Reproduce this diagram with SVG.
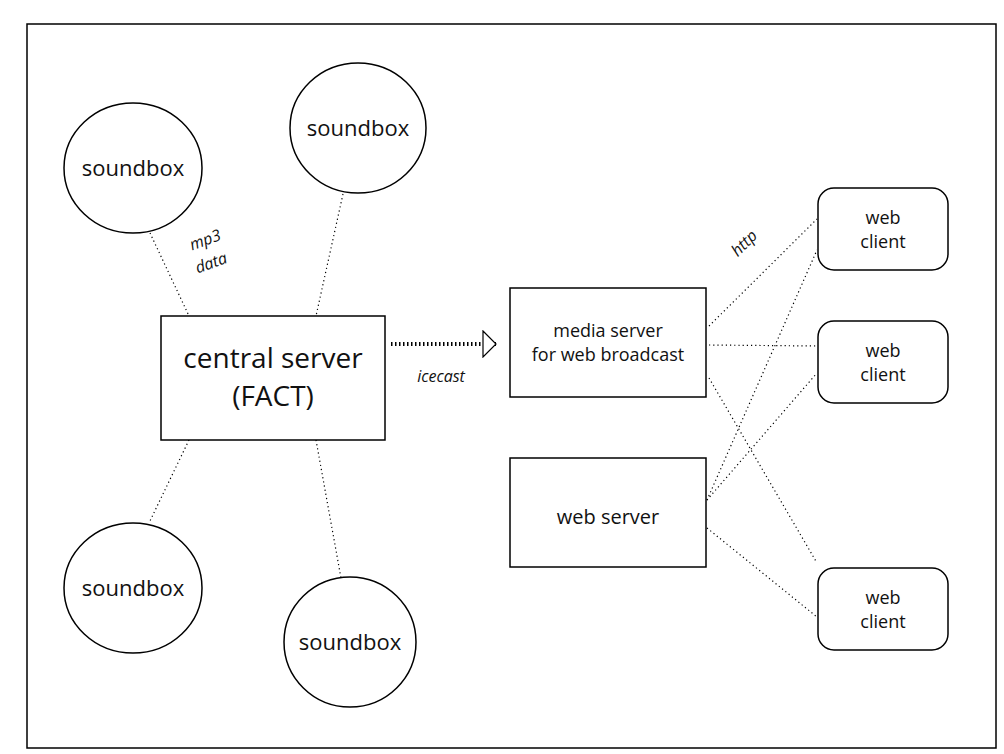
<svg xmlns="http://www.w3.org/2000/svg" width="1004" height="754" viewBox="0 0 1004 754">
<style>
.n{fill:#fff;stroke:#000;stroke-width:1.5}
.t{font-family:"Open Sans","Liberation Sans",sans-serif;fill:#111;text-anchor:middle}
.c{stroke:#000;stroke-width:1.2;stroke-dasharray:1.2 3;fill:none}
.l{font-family:"Open Sans","Liberation Sans",sans-serif;font-style:italic;font-size:16px;fill:#111;text-anchor:middle}
</style>
<defs><marker id="a" markerWidth="16" markerHeight="28" refX="14" refY="14" orient="auto" markerUnits="userSpaceOnUse"><path d="M1,1 L14,14 L1,27 Z" fill="#fff" stroke="#000" stroke-width="1.2"/></marker></defs>
<rect x="27" y="24" width="969" height="724" fill="#fff" stroke="#000" stroke-width="1.5"/>
<g id="connectors">
<line class="c" x1="150" y1="233" x2="189" y2="316"/>
<line class="c" x1="343" y1="194" x2="316" y2="316"/>
<line class="c" x1="189" y1="440" x2="149" y2="523"/>
<line class="c" x1="316" y1="440" x2="341" y2="578"/>
<line x1="391" y1="344" x2="496" y2="344" stroke="#000" stroke-width="4" stroke-dasharray="1.5 2.5" marker-end="url(#a)"/>
<line class="c" x1="709" y1="326" x2="817" y2="219"/>
<line class="c" x1="709" y1="345" x2="817" y2="346"/>
<line class="c" x1="709" y1="378" x2="817" y2="563"/>
<line class="c" x1="707" y1="500" x2="817" y2="250"/>
<line class="c" x1="707" y1="500" x2="817" y2="373"/>
<line class="c" x1="707" y1="528" x2="817" y2="617"/>
<text class="l" transform="translate(207,245) rotate(-20)">mp3</text>
<text class="l" transform="translate(213,268) rotate(-20)">data</text>
<text class="l" x="441" y="382">icecast</text>
<text class="l" transform="translate(748,247) rotate(-45)">http</text>
</g>
<g id="sb1"><ellipse class="n" cx="133" cy="168" rx="69" ry="65"/><text class="t" x="133" y="176" font-size="22">soundbox</text></g>
<g id="sb2"><ellipse class="n" cx="358" cy="128" rx="68" ry="65"/><text class="t" x="358" y="136" font-size="22">soundbox</text></g>
<g id="sb3"><ellipse class="n" cx="133" cy="588" rx="69" ry="65"/><text class="t" x="133" y="596" font-size="22">soundbox</text></g>
<g id="sb4"><ellipse class="n" cx="350" cy="642" rx="66" ry="65"/><text class="t" x="350" y="650" font-size="22">soundbox</text></g>
<g id="central"><rect class="n" x="161" y="316" width="224" height="124"/><text class="t" x="273" y="368" font-size="28">central server</text><text class="t" x="273" y="406" font-size="28">(FACT)</text></g>
<g id="media"><rect class="n" x="510" y="288" width="196" height="109"/><text class="t" x="608" y="337" font-size="18">media server</text><text class="t" x="608" y="361" font-size="18">for web broadcast</text></g>
<g id="webserver"><rect class="n" x="510" y="458" width="196" height="109"/><text class="t" x="608" y="524" font-size="20">web server</text></g>
<g id="wc1"><rect class="n" x="818" y="188" width="130" height="82" rx="16"/><text class="t" x="883" y="224" font-size="18">web</text><text class="t" x="883" y="248" font-size="18">client</text></g>
<g id="wc2"><rect class="n" x="818" y="321" width="130" height="82" rx="16"/><text class="t" x="883" y="357" font-size="18">web</text><text class="t" x="883" y="381" font-size="18">client</text></g>
<g id="wc3"><rect class="n" x="818" y="568" width="130" height="82" rx="16"/><text class="t" x="883" y="604" font-size="18">web</text><text class="t" x="883" y="628" font-size="18">client</text></g>
</svg>
